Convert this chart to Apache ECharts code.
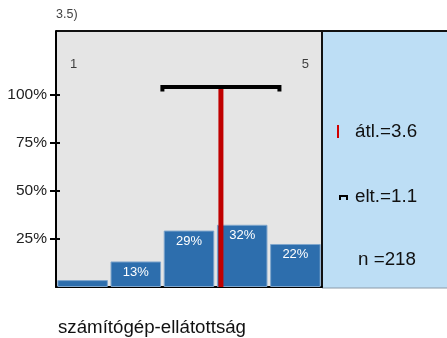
<!DOCTYPE html>
<html>
<head>
<meta charset="utf-8">
<script src="https://cdn.jsdelivr.net/npm/echarts@6/dist/echarts.min.js"></script>
<style>
  html, body { margin: 0; padding: 0; background: #fff; }
  #chart { width: 447px; height: 338px; }
</style>
</head>
<body>
<div id="chart"></div>
<script>
// adatok
const categories = ['1', '2', '3', '4', '5'];
const shares = [3.6, 13.3, 29.4, 32.4, 22.4];
const yTicks = [25, 50, 75, 100];
const scaleEnds = [1, 5];
const mean = 3.6;
const sd = 1.1;
const n = 218;
const barTop = 104.2;   // a szórás-jel magassága (%)
const hookLow = 101.8;

const chart = echarts.init(document.getElementById('chart'));
const font = 'Liberation Sans, Arial, sans-serif';

function txt(x, y, s, size) {
  return { type: 'text', x: x, y: y, style: { text: s, fontSize: size, fill: '#111', fontFamily: font, verticalAlign: 'middle' } };
}

chart.setOption({
  animation: false,
  grid: { left: 56, top: 31, right: 125, bottom: 51, show: true, backgroundColor: '#e5e5e5', borderWidth: 0 },
  xAxis: [
    {
      type: 'category', data: categories,
      axisLine: { lineStyle: { color: '#000', width: 2 } },
      axisTick: { show: false }, axisLabel: { show: false }
    },
    { type: 'value', min: 0.5, max: 5.5, show: false }
  ],
  yAxis: [
    {
      type: 'value', min: 0, max: 133.33,
      splitLine: { show: false },
      axisLine: { show: true, lineStyle: { color: '#000', width: 2 } },
      axisTick: { show: true, length: 6, customValues: yTicks, lineStyle: { color: '#000', width: 2 } },
      axisLabel: { customValues: yTicks, formatter: '{value}%', margin: 9, fontSize: 15.5, color: '#222', fontFamily: font }
    },
    {
      type: 'value', min: 0, max: 133.33, position: 'left',
      splitLine: { show: false }, axisLine: { show: false },
      axisTick: { show: true, inside: true, length: 4, customValues: yTicks, lineStyle: { color: '#000', width: 2 } },
      axisLabel: { show: false }
    }
  ],
  series: [
    {
      type: 'bar', data: shares, barCategoryGap: '5%',
      itemStyle: { color: '#2d6ead', borderColor: '#7fa6cc', borderWidth: 1 },
      label: {
        show: true, position: 'insideTop', distance: 4,
        color: '#fff', fontSize: 13, fontFamily: font,
        formatter: p => p.value >= 5 ? Math.round(p.value) + '%' : ''
      }
    },
    {
      type: 'line', xAxisIndex: 1, symbol: 'none', z: 5,
      data: [[mean, 0], [mean, barTop]],
      lineStyle: { color: '#c00000', width: 5 }
    },
    {
      type: 'line', xAxisIndex: 1, symbol: 'none', z: 6,
      data: [[mean - sd, hookLow], [mean - sd, barTop], [mean + sd, barTop], [mean + sd, hookLow]],
      lineStyle: { color: '#000', width: 4, join: 'miter' }
    },
    {
      type: 'scatter', xAxisIndex: 1, symbolSize: 0,
      data: scaleEnds.map(v => [v, 116]),
      label: {
        show: true, position: 'inside', fontSize: 13, color: '#111', fontFamily: font,
        formatter: p => String(p.value[0])
      },
      labelLayout: p => ({ dx: p.dataIndex === 0 ? -9 : 10 })
    }
  ],
  graphic: [
    { type: 'rect', shape: { x: 322, y: 31, width: 125, height: 257 }, style: { fill: '#bddef5' }, z: -1 },
    { type: 'line', shape: { x1: 56, y1: 31, x2: 447, y2: 31 }, style: { stroke: '#111', lineWidth: 2 } },
    { type: 'line', shape: { x1: 322, y1: 31, x2: 322, y2: 288 }, style: { stroke: '#111', lineWidth: 2 } },
    { type: 'line', shape: { x1: 322, y1: 288, x2: 447, y2: 288 }, style: { stroke: '#8a9aa8', lineWidth: 1 } },
    { type: 'rect', shape: { x: 337, y: 125, width: 2, height: 13 }, style: { fill: '#d00000' } },
    { type: 'polyline', shape: { points: [[340, 200], [340, 196], [347, 196], [347, 200]] }, style: { stroke: '#000', lineWidth: 2, fill: null } },
    { type: 'text', x: 56, y: 15, style: { text: '3.5)', fontSize: 12.5, fill: '#444', fontFamily: font, verticalAlign: 'middle' } },
    txt(355, 132, 'átl.=' + mean, 18.8),
    txt(355, 197, 'elt.=' + sd, 18.8),
    txt(358, 260, 'n =' + n, 18.8),
    txt(58, 328, 'számítógép-ellátottság', 18.7)
  ]
});
</script>
</body>
</html>
